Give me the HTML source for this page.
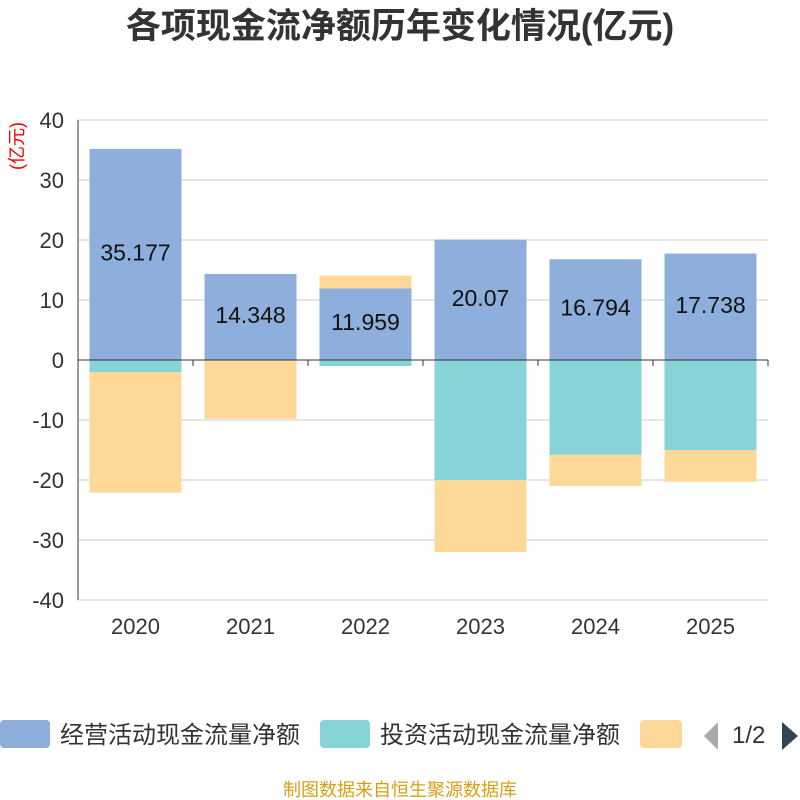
<!DOCTYPE html>
<html><head><meta charset="utf-8">
<style>
body{margin:0;background:#fff;font-family:"Liberation Sans","Noto Sans CJK SC",sans-serif;}
#c{position:relative;width:800px;height:800px;overflow:hidden;}
</style></head>
<body><div id="c">
<svg id="s" width="800" height="800" xmlns="http://www.w3.org/2000/svg">
<text x="400" y="38" text-anchor="middle" font-size="35" font-weight="bold" fill="#333" font-family="Liberation Sans, Noto Sans CJK SC, sans-serif">各项现金流净额历年变化情况(亿元)</text>
<text transform="translate(23,146) rotate(-90)" text-anchor="middle" font-size="18" fill="#e00" font-family="Liberation Sans, Noto Sans CJK SC, sans-serif">(亿元)</text>
<g id="grid"></g><g id="bars"></g><g id="axes"></g>
<g font-family="Liberation Sans, Noto Sans CJK SC, sans-serif" font-size="24" fill="#333">
<rect x="0" y="720" width="50" height="28" rx="4" fill="#8eaedb"/>
<text x="60" y="743">经营活动现金流量净额</text>
<rect x="320" y="720" width="50" height="28" rx="4" fill="#86d4d8"/>
<text x="380" y="743">投资活动现金流量净额</text>
<rect x="640" y="720" width="42" height="28" rx="4" fill="#fdd898"/>
<polygon points="718,722 718,750 704,736" fill="#aaa"/>
<text x="732" y="743">1/2</text>
<polygon points="782,722 782,750 798,736" fill="#2f4554"/>
</g>
<text x="400" y="796" text-anchor="middle" font-size="18" fill="#d4a017" font-family="Liberation Sans, Noto Sans CJK SC, sans-serif">制图数据来自恒生聚源数据库</text>
</svg></div>
<script>
const categories=["2020","2021","2022","2023","2024","2025"];
const operating=[35.177,14.348,11.959,20.07,16.794,17.738];
const investing=[-2.0,0,-1.0,-20.0,-15.8,-15.0];
const financing=[-20.1,-9.8,2.1,-12.0,-5.2,-5.3];
const yTicks=[40,30,20,10,0,-10,-20,-30,-40];
const NS="http://www.w3.org/2000/svg";
const L=78,R=768,T=120,B=600,ymin=-40,ymax=40;
const y=v=>T+(ymax-v)/(ymax-ymin)*(B-T);
const band=(R-L)/categories.length;
const xc=i=>L+band*(i+0.5);
const bw=92;
function mk(tag,attrs,parent){const e=document.createElementNS(NS,tag);for(const k in attrs)e.setAttribute(k,attrs[k]);document.getElementById(parent).appendChild(e);return e;}
yTicks.forEach(t=>{
  const l=mk('line',{x1:L,x2:R,y1:y(t),y2:y(t),stroke:'#ccc','stroke-width':1},'grid');
  
  
  const tx=mk('text',{x:L-14,y:y(t)+8,'text-anchor':'end','font-size':22,fill:'#333','font-family':'Liberation Sans, sans-serif'},'axes');
  tx.textContent=t;
  
  
});
const ya=mk('line',{x1:L,x2:L,y1:T,y2:B,stroke:'#333','stroke-width':1},'axes');


const xa=mk('line',{x1:L,x2:R,y1:y(0),y2:y(0),stroke:'#333','stroke-width':1},'axes');


categories.forEach((c,i)=>{
  const tk=mk('line',{x1:L+band*(i+1),x2:L+band*(i+1),y1:y(0),y2:y(0)+6,stroke:'#333'},'axes');
  
  
  const tx=mk('text',{x:xc(i),y:B+34,'text-anchor':'middle','font-size':22,fill:'#333','font-family':'Liberation Sans, sans-serif'},'axes');
  tx.textContent=c;
  
  
  let pos=0,neg=0;
  [[operating,'#8eaedb','operating'],[investing,'#86d4d8','investing'],[financing,'#fdd898','financing']].forEach(([arr,col,nm])=>{
    const v=arr[i];if(!v)return;
    let a,b;
    if(v>0){a=pos;b=pos+v;pos=b;}else{a=neg;b=neg+v;neg=b;}
    const r=mk('rect',{x:xc(i)-bw/2,y:Math.min(y(a),y(b)),width:bw,height:Math.abs(y(a)-y(b)),fill:col},'bars');
    
    
  });
  const lb=mk('text',{x:xc(i),y:y(operating[i]/2)+6,'text-anchor':'middle','font-size':23,fill:'#111','font-family':'Liberation Sans, sans-serif'},'bars');
  lb.textContent=operating[i];
  
  
});
</script></body></html>
